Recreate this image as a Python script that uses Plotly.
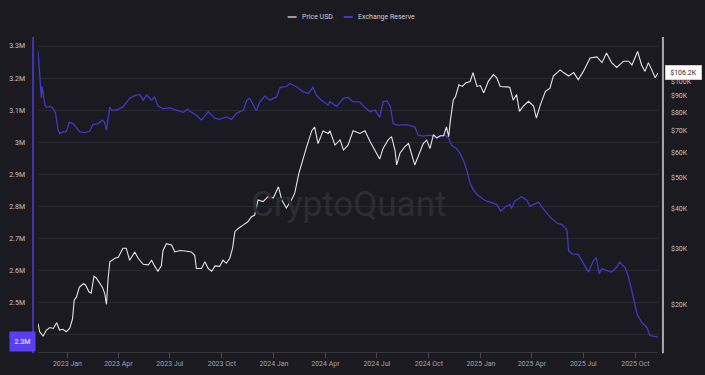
import math
import plotly.graph_objects as go

# ---------------- data ----------------
reserve_dates = ["2022-11-10","2022-11-13","2022-11-16","2022-11-17","2022-11-19","2022-11-22","2022-11-25","2022-12-04","2022-12-07","2022-12-11",
"2022-12-15","2022-12-18","2022-12-24","2022-12-30","2023-01-04","2023-01-11","2023-01-17","2023-01-23","2023-02-01","2023-02-09",
"2023-02-15","2023-02-24","2023-03-04","2023-03-08","2023-03-11","2023-03-17","2023-03-20","2023-03-29","2023-04-09","2023-04-21",
"2023-04-30","2023-05-09","2023-05-15","2023-05-21","2023-05-30","2023-06-04","2023-06-10","2023-06-19","2023-07-01","2023-07-13",
"2023-07-25","2023-08-02","2023-08-05","2023-08-17","2023-08-26","2023-09-07","2023-09-19","2023-09-27","2023-10-09","2023-10-18",
"2023-10-27","2023-11-08","2023-11-14","2023-11-19","2023-11-25","2023-12-01","2023-12-07","2023-12-16","2023-12-25","2024-01-06",
"2024-01-12","2024-01-23","2024-01-29","2024-02-10","2024-02-22","2024-03-02","2024-03-10","2024-03-16","2024-03-25","2024-04-06",
"2024-04-09","2024-04-21","2024-05-03","2024-05-11","2024-05-20","2024-06-01","2024-06-10","2024-06-19","2024-06-28","2024-07-03",
"2024-07-06","2024-07-12","2024-07-19","2024-07-25","2024-07-30","2024-08-05","2024-08-23","2024-09-06","2024-09-12","2024-09-21",
"2024-10-03","2024-10-15","2024-10-29","2024-11-04","2024-11-10","2024-11-19","2024-11-25","2024-12-01","2024-12-07","2024-12-13",
"2024-12-19","2024-12-27","2025-01-08","2025-01-17","2025-01-29","2025-02-05","2025-02-13","2025-02-21","2025-02-24","2025-03-02",
"2025-03-14","2025-03-23","2025-03-29","2025-04-13","2025-04-21","2025-05-03","2025-05-15","2025-05-24","2025-06-02","2025-06-05",
"2025-06-11","2025-06-22","2025-07-01","2025-07-10","2025-07-19","2025-07-24","2025-07-29","2025-08-03","2025-08-11","2025-08-20",
"2025-08-29","2025-09-03","2025-09-13","2025-09-19","2025-09-28","2025-10-04","2025-10-12","2025-10-21","2025-10-27","2025-11-05",
"2025-11-10"]

reserve_millions = [3.284,3.220,3.138,3.173,3.157,3.116,3.110,3.110,3.105,3.091,
3.043,3.027,3.032,3.032,3.062,3.058,3.043,3.032,3.030,3.034,
3.055,3.058,3.069,3.062,3.037,3.110,3.100,3.100,3.110,3.137,
3.145,3.149,3.131,3.147,3.131,3.142,3.113,3.105,3.107,3.100,
3.093,3.103,3.097,3.084,3.069,3.095,3.074,3.071,3.079,3.071,
3.090,3.100,3.131,3.137,3.116,3.098,3.126,3.144,3.131,3.142,
3.171,3.173,3.183,3.173,3.157,3.152,3.171,3.147,3.131,3.116,
3.126,3.112,3.137,3.140,3.126,3.126,3.108,3.095,3.100,3.084,
3.077,3.126,3.129,3.110,3.058,3.053,3.055,3.048,3.022,3.019,
3.022,3.015,3.022,3.015,2.991,2.980,2.965,2.944,2.912,2.871,
2.850,2.834,2.819,2.813,2.806,2.785,2.798,2.806,2.793,2.817,
2.830,2.819,2.800,2.813,2.793,2.767,2.748,2.743,2.727,2.662,
2.652,2.650,2.621,2.595,2.631,2.640,2.590,2.605,2.600,2.595,
2.610,2.626,2.608,2.579,2.511,2.464,2.438,2.423,2.397,2.394,
2.392]

price_dates = ["2022-11-10","2022-11-13","2022-11-19","2022-11-25","2022-12-01","2022-12-07","2022-12-13","2022-12-18","2022-12-24","2022-12-30",
"2023-01-05","2023-01-10","2023-01-13","2023-01-17","2023-01-22","2023-01-29","2023-02-02","2023-02-08","2023-02-12","2023-02-17",
"2023-02-21","2023-02-27","2023-03-04","2023-03-08","2023-03-11","2023-03-14","2023-03-17","2023-03-26","2023-04-01","2023-04-09",
"2023-04-15","2023-04-21","2023-04-30","2023-05-06","2023-05-15","2023-05-24","2023-05-30","2023-06-04","2023-06-10","2023-06-16",
"2023-06-19","2023-06-25","2023-07-04","2023-07-10","2023-07-19","2023-07-28","2023-08-08","2023-08-14","2023-08-17","2023-08-26",
"2023-09-01","2023-09-07","2023-09-13","2023-09-19","2023-09-27","2023-10-03","2023-10-09","2023-10-15","2023-10-20","2023-10-24",
"2023-10-30","2023-11-08","2023-11-16","2023-11-22","2023-11-28","2023-12-04","2023-12-13","2023-12-22","2023-12-31","2024-01-09",
"2024-01-15","2024-01-23","2024-02-01","2024-02-07","2024-02-10","2024-02-14","2024-02-28","2024-03-08","2024-03-13","2024-03-19",
"2024-03-28","2024-04-06","2024-04-09","2024-04-18","2024-04-27","2024-05-03","2024-05-11","2024-05-20","2024-06-01","2024-06-10",
"2024-06-19","2024-06-28","2024-07-06","2024-07-12","2024-07-21","2024-07-27","2024-08-02","2024-08-05","2024-08-11","2024-08-20",
"2024-08-26","2024-09-01","2024-09-06","2024-09-12","2024-09-21","2024-09-27","2024-10-03","2024-10-09","2024-10-15","2024-10-21",
"2024-10-27","2024-11-01","2024-11-05","2024-11-08","2024-11-13","2024-11-17","2024-11-23","2024-11-29","2024-12-05","2024-12-13",
"2024-12-18","2024-12-25","2024-12-31","2025-01-06","2025-01-14","2025-01-23","2025-01-29","2025-02-04","2025-02-13","2025-02-21",
"2025-02-27","2025-03-05","2025-03-10","2025-03-17","2025-03-26","2025-04-04","2025-04-09","2025-04-16","2025-04-25","2025-05-03",
"2025-05-09","2025-05-21","2025-05-27","2025-06-05","2025-06-14","2025-06-22","2025-07-01","2025-07-13","2025-07-25","2025-08-03",
"2025-08-11","2025-08-20","2025-08-29","2025-09-10","2025-09-19","2025-09-25","2025-10-05","2025-10-12","2025-10-18","2025-10-24",
"2025-10-30","2025-11-05","2025-11-10"]

price_thousands = [17.5,16.5,16.0,16.7,17.0,16.9,17.6,16.7,16.8,16.5,
16.9,18.1,20.7,21.2,22.7,23.3,23.1,22.0,21.8,24.6,
24.3,23.4,22.7,21.7,20.1,24.3,27.3,28.0,28.2,30.1,
30.1,27.6,29.3,28.0,26.8,26.7,27.6,26.5,25.5,26.5,
29.6,31.1,30.8,29.3,29.6,29.5,29.3,28.6,26.0,26.0,
27.3,26.0,25.5,26.5,26.4,27.6,27.0,28.0,30.1,33.9,
34.7,35.6,36.4,37.7,38.2,42.6,42.1,43.7,43.2,46.8,
42.6,40.2,42.6,44.8,48.0,51.5,62.5,70.1,72.0,63.9,
70.0,68.7,70.1,63.2,65.6,61.0,63.2,70.1,68.7,70.1,
64.9,61.0,57.2,61.7,65.6,67.2,61.0,54.8,59.7,62.6,
63.9,58.8,54.8,58.2,63.9,65.5,61.7,68.1,66.5,67.6,
67.6,72.0,67.2,75.5,87.3,89.5,97.5,96.4,98.8,99.9,
106.5,96.4,97.0,92.0,100.0,105.0,102.6,96.4,96.4,95.9,
87.3,90.9,80.6,83.7,86.6,83.7,76.8,84.4,93.0,95.2,
103.9,108.6,106.5,103.9,106.5,101.2,107.4,118.3,119.2,114.4,
122.7,114.4,110.5,115.6,115.6,112.5,124.0,112.5,107.4,114.4,
108.6,102.6,106.2]

reserve_tick_vals = [2.4e6, 2.5e6, 2.6e6, 2.7e6, 2.8e6, 2.9e6, 3.0e6, 3.1e6, 3.2e6, 3.3e6]
reserve_tick_text = ["2.4M", "2.5M", "2.6M", "2.7M", "2.8M", "2.9M", "3M", "3.1M", "3.2M", "3.3M"]
price_tick_vals = [20000, 30000, 40000, 50000, 60000, 70000, 80000, 90000, 100000]
price_tick_text = ["$20K", "$30K", "$40K", "$50K", "$60K", "$70K", "$80K", "$90K", "$100K"]

reserve_btc = [v * 1e6 for v in reserve_millions]
price_usd = [v * 1000 for v in price_thousands]

# ---------------- style ----------------
BG = "#1b1a21"
GRID = "#292830"
RES_COLOR = "#4636c8"
PRICE_COLOR = "#e4e4e8"
FONT = "Roboto, sans-serif"
TICK_FONT = dict(family=FONT, size=7, color="#c2c2c8")

fig = go.Figure()
fig.add_trace(go.Scatter(
    x=reserve_dates, y=reserve_btc, mode="lines", name="Exchange Reserve",
    line=dict(color=RES_COLOR, width=1.3), yaxis="y", showlegend=False))
fig.add_trace(go.Scatter(
    x=price_dates, y=price_usd, mode="lines", name="Price USD",
    line=dict(color=PRICE_COLOR, width=1.1), yaxis="y2", showlegend=False))

shapes = [
    # left axis line (reserve colour)
    dict(type="line", xref="paper", yref="paper", x0=-0.008, x1=-0.008, y0=-0.004, y1=1,
         line=dict(color="#4b3bd6", width=1.6)),
    # right axis line
    dict(type="line", xref="paper", yref="paper", x0=1.008, x1=1.008, y0=-0.004, y1=1,
         line=dict(color="#a8a8ae", width=2)),
    # legend symbols
    dict(type="line", xref="paper", yref="paper", x0=0.4026, x1=0.4171, y0=1.0635, y1=1.0635,
         line=dict(color="#9a9aa0", width=2)),
    dict(type="line", xref="paper", yref="paper", x0=0.4932, x1=0.5077, y0=1.0635, y1=1.0635,
         line=dict(color=RES_COLOR, width=2)),
]

annotations = [
    dict(text="Price USD", xref="paper", yref="paper", x=0.4226, y=1.0635, xanchor="left",
         yanchor="middle", showarrow=False, font=dict(family=FONT, size=7, color="#cfcfd4")),
    dict(text="Exchange Reserve", xref="paper", yref="paper", x=0.5129, y=1.0635, xanchor="left",
         yanchor="middle", showarrow=False, font=dict(family=FONT, size=7, color="#cfcfd4")),
    # watermark
    dict(text="CryptoQuant", xref="paper", yref="paper", x=0.5, y=0.467, xanchor="center",
         yanchor="middle", showarrow=False, font=dict(family=FONT, size=35, color="#2d2c35")),
    # last-value labels
    dict(text="2.3M", xref="paper", yref="y", x=-0.0247, y=reserve_btc[-1], yshift=-4,
         xanchor="center", yanchor="middle", showarrow=False, bgcolor="#5a3ef2",
         width=23, height=17, borderpad=1, font=dict(family=FONT, size=7, color="#ffffff")),
    dict(text="$106.2K", xref="paper", yref="y2", x=1.0419, y=math.log10(price_usd[-1]),
         xanchor="center", yanchor="middle", showarrow=False, bgcolor="#ffffff",
         bordercolor="#d0d0d0", borderwidth=0.5,
         width=34, height=12, borderpad=1, font=dict(family=FONT, size=7, color="#222228")),
]

fig.update_layout(
    width=705, height=375, autosize=False,
    margin=dict(l=38, r=47, t=37, b=23, pad=0, autoexpand=False),
    paper_bgcolor=BG, plot_bgcolor=BG,
    showlegend=False,
    xaxis=dict(type="date", range=["2022-11-10", "2025-11-10"], tick0="2023-01-01", dtick="M3",
               tickformat="%Y %b", ticks="outside", ticklen=5, tickwidth=1, tickcolor="#4a4953",
               showline=True, linecolor="#35343d", linewidth=1, showgrid=False, zeroline=False,
               automargin=False, tickfont=dict(family=FONT, size=7, color="#a2a2aa")),
    yaxis=dict(range=[2.3457e6, 3.3281e6], tickvals=reserve_tick_vals, ticktext=reserve_tick_text,
               showgrid=True, gridcolor=GRID, gridwidth=1, zeroline=False, showline=False,
               automargin=False, ticks="", ticklabelstandoff=12, tickfont=TICK_FONT),
    yaxis2=dict(type="log", range=[4.15416, 5.13853], overlaying="y", side="right",
                tickvals=price_tick_vals, ticktext=price_tick_text, showgrid=False,
                automargin=False, zeroline=False, showline=False, ticks="", ticklabelstandoff=12,
                tickfont=TICK_FONT),
    shapes=shapes, annotations=annotations,
)

fig.write_html("out.html", config={"displayModeBar": False},
               post_script="document.body.style.margin='0';document.body.style.background='%s';" % BG)
